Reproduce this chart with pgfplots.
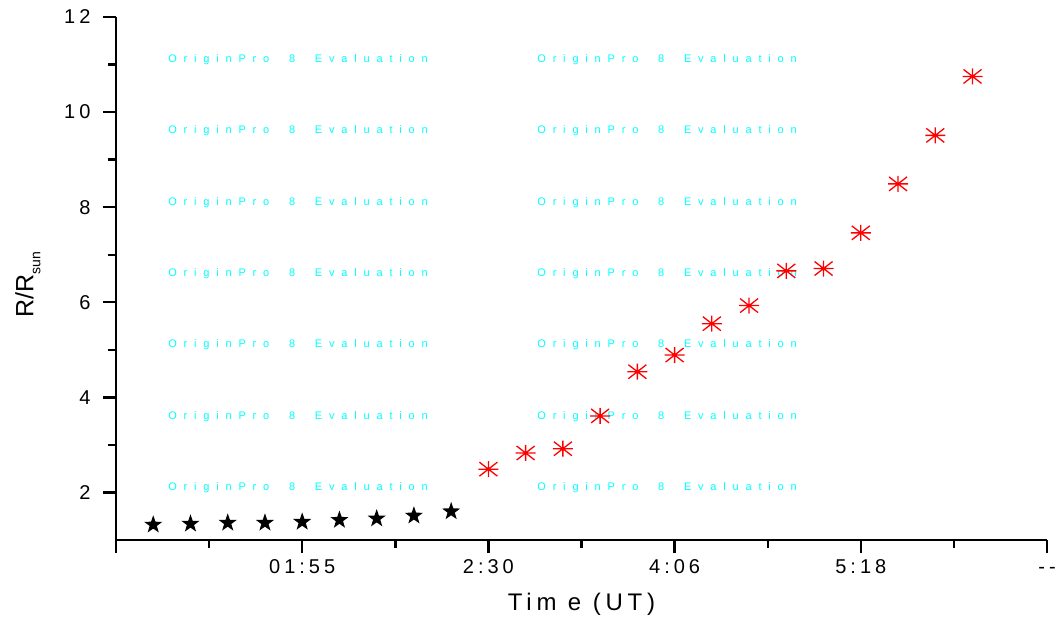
\documentclass[border=0pt]{standalone}
\usepackage{pgfplots}
\pgfplotsset{compat=1.18}
\usepackage{fontspec}
\setmainfont{Liberation Sans}
\newfontfamily\tickfont{Liberation Sans}[LetterSpace=20]
\newfontfamily\wmfont{Liberation Sans}[LetterSpace=62]
\definecolor{wm}{RGB}{0,255,255}
\definecolor{ored}{RGB}{255,0,0}
\pgfdeclareplotmark{fstar}{%
  \pgfpathmoveto{\pgfpointpolar{90}{\pgfplotmarksize}}%
  \pgfpathlineto{\pgfpointpolar{126}{0.40\pgfplotmarksize}}%
  \pgfpathlineto{\pgfpointpolar{162}{\pgfplotmarksize}}%
  \pgfpathlineto{\pgfpointpolar{198}{0.40\pgfplotmarksize}}%
  \pgfpathlineto{\pgfpointpolar{234}{\pgfplotmarksize}}%
  \pgfpathlineto{\pgfpointpolar{270}{0.40\pgfplotmarksize}}%
  \pgfpathlineto{\pgfpointpolar{306}{\pgfplotmarksize}}%
  \pgfpathlineto{\pgfpointpolar{342}{0.40\pgfplotmarksize}}%
  \pgfpathlineto{\pgfpointpolar{18}{\pgfplotmarksize}}%
  \pgfpathlineto{\pgfpointpolar{54}{0.40\pgfplotmarksize}}%
  \pgfpathclose\pgfusepathqfill}
\pgfdeclareplotmark{ast8}{%
  \pgfpathmoveto{\pgfqpoint{-\pgfplotmarksize}{0pt}}%
  \pgfpathlineto{\pgfqpoint{\pgfplotmarksize}{0pt}}%
  \pgfpathmoveto{\pgfpoint{0pt}{-0.8\pgfplotmarksize}}%
  \pgfpathlineto{\pgfpoint{0pt}{0.8\pgfplotmarksize}}%
  \pgfpathmoveto{\pgfpoint{-0.9\pgfplotmarksize}{-0.7\pgfplotmarksize}}%
  \pgfpathlineto{\pgfpoint{0.9\pgfplotmarksize}{0.7\pgfplotmarksize}}%
  \pgfpathmoveto{\pgfpoint{-0.9\pgfplotmarksize}{0.7\pgfplotmarksize}}%
  \pgfpathlineto{\pgfpoint{0.9\pgfplotmarksize}{-0.7\pgfplotmarksize}}%
  \pgfusepathqstroke}
\begin{document}
\begin{tikzpicture}
\path[use as bounding box] (-116pt,-81pt) rectangle (939pt,540pt);
\begin{axis}[
  scale only axis, width=931pt, height=523pt,
  xmin=0, xmax=25, ymin=1, ymax=12,
  axis lines=left, axis line style={line width=2.4pt,-},
  xtick={0,5,...,25}, xticklabels={,01:55,2:30,4:06,5:18,--},
  minor xtick={2.5,7.5,...,22.5},
  ytick={2,4,...,12}, yticklabels={2,4,6,8,10,12},
  minor ytick={3,5,...,11},
  tick style={black,line width=2.4pt},
  tick align=outside,
  major tick length=13pt, minor tick length=8pt,
  tick label style={font=\tickfont\fontsize{20}{20}\selectfont},
  xticklabel style={text height=14pt, text depth=0pt, yshift=-3pt},
  yticklabel style={xshift=-9pt},
  xlabel={Tim e (UT)},
  ylabel={R/R\raisebox{-7pt}{\fontsize{14}{14}\selectfont sun}},
  xlabel style={font=\tickfont\fontsize{24}{24}\selectfont, at={(axis description cs:0.5,0)}, yshift=-64pt, anchor=center},
  ylabel style={font=\fontsize{25}{25}\selectfont, at={(axis description cs:0,0.5)}, yshift=88pt, xshift=-6pt, anchor=center},
  clip=false,
]
\foreach \yy in {11.1,9.6,8.1,6.6,5.1,3.6,2.1}{
  \edef\tmp{\noexpand\node[anchor=west, text=wm, font=\noexpand\wmfont\noexpand\fontsize{11}{11}\noexpand\selectfont, inner sep=0pt] at (axis cs:1.4,\yy) {OriginPro\noexpand\ \noexpand\ 8\noexpand\ \noexpand\ Evaluation};
  \noexpand\node[anchor=west, text=wm, font=\noexpand\wmfont\noexpand\fontsize{11}{11}\noexpand\selectfont, inner sep=0pt] at (axis cs:11.31,\yy) {OriginPro\noexpand\ \noexpand\ 8\noexpand\ \noexpand\ Evaluation};}
  \tmp
}
\addplot[only marks, mark=fstar, mark size=9.5pt, black] coordinates {
(1,1.32) (2,1.34) (3,1.36) (4,1.36) (5,1.38) (6,1.42) (7,1.45) (8,1.51) (9,1.60)};
\addplot[only marks, mark=ast8, mark size=10pt, ored, line width=1.3pt] coordinates {
(10,2.49) (11,2.83) (12,2.92) (13,3.61) (14,4.54) (15,4.89) (16,5.55) (17,5.93)
(18,6.66) (19,6.71) (20,7.46) (21,8.49) (22,9.51) (23,10.75)};
\end{axis}
\end{tikzpicture}
\end{document}
